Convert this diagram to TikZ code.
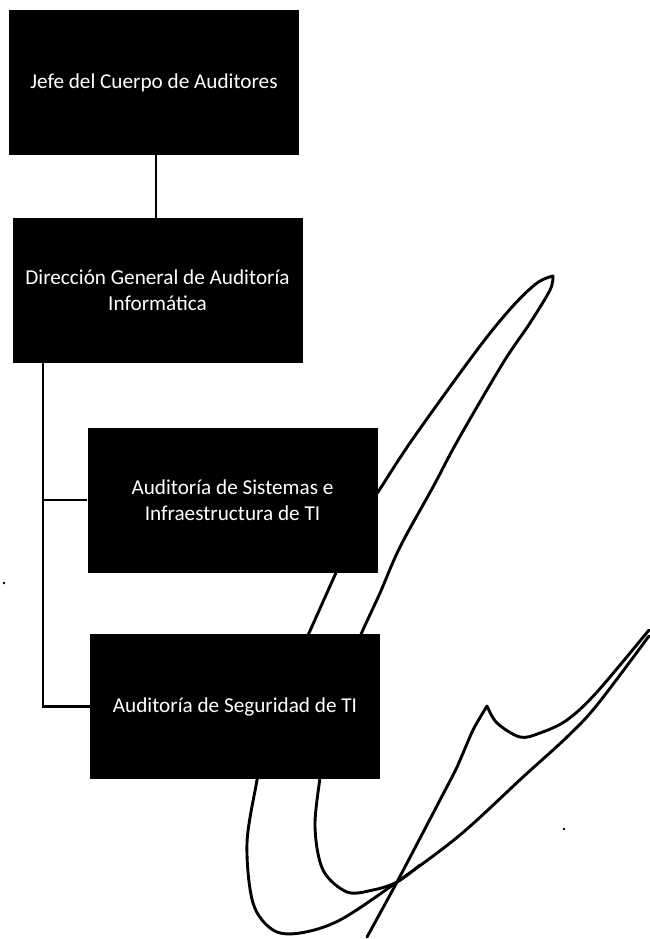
\documentclass[tikz,border=0pt]{standalone}
\usepackage{fontspec}
\setmainfont{Carlito}
\begin{document}
\begin{tikzpicture}[x=1pt,y=-1pt,
  orgbox/.style={fill=black, text=white, minimum width=290pt, minimum height=145pt,
    inner sep=0pt, align=center, font=\fontsize{21.2}{26}\selectfont},
  link/.style={line width=2.3pt},
  sig/.style={line width=2.9pt, line cap=round, line join=round}]
\useasboundingbox (0,0) rectangle (649,939);
% signature strokes (behind boxes)
\draw[sig] plot[smooth, tension=0.55] coordinates {(368,505) (378,492) (412,440) (477,350) (512,307) (537,283) (553,276)};
\draw[sig] plot[smooth, tension=0.55] coordinates {(553,276) (550,290) (530,323) (503,363) (458,440) (433,487) (400,547) (380,593) (362,632) (354,652)};
\draw[sig] (339,566) -- (305,642);
\draw[sig] plot[smooth, tension=0.55] coordinates {(259,765) (257,780) (247,843) (253,903) (273,930) (300,933) (340,920) (397,882) (460,835) (523,777) (567,737) (597,705) (649,636)};
\draw[sig] plot[smooth, tension=0.55] coordinates {(321,765) (320,777) (315,827) (323,870) (347,892) (373,890) (397,882) (420,865)};
\draw[sig] plot[smooth, tension=0.4] coordinates {(367,937) (397,882) (440,800) (457,767) (473,730) (487,706)};
\draw[sig] plot[smooth, tension=0.55] coordinates {(487,706) (497,723) (520,737) (540,733) (567,720) (597,692) (649,630)};
% specks
\fill (4,583) circle (1.3pt);
\fill (564,829) circle (1.3pt);
% boxes
\node[orgbox] (b1) at (154,82.5) {Jefe del Cuerpo de Auditores};
\node[orgbox] (b2) at (157.5,290.5) {Dirección General de Auditoría\\Informática};
\node[orgbox] (b3) at (232.5,500) {Auditoría de Sistemas e\\Infraestructura de TI};
\node[orgbox] (b4) at (235,706.5) {Auditoría de Seguridad de TI};
% connectors
\coordinate (jtop) at ([xshift=2pt]b1.south);
\draw[link] (jtop) -- (jtop |- b2.north);
\coordinate (trunk) at ([xshift=-114.5pt]b2.south);
\draw[link] (trunk) |- (b3.west);
\draw[link] (trunk) |- (b4.west);
\end{tikzpicture}
\end{document}
